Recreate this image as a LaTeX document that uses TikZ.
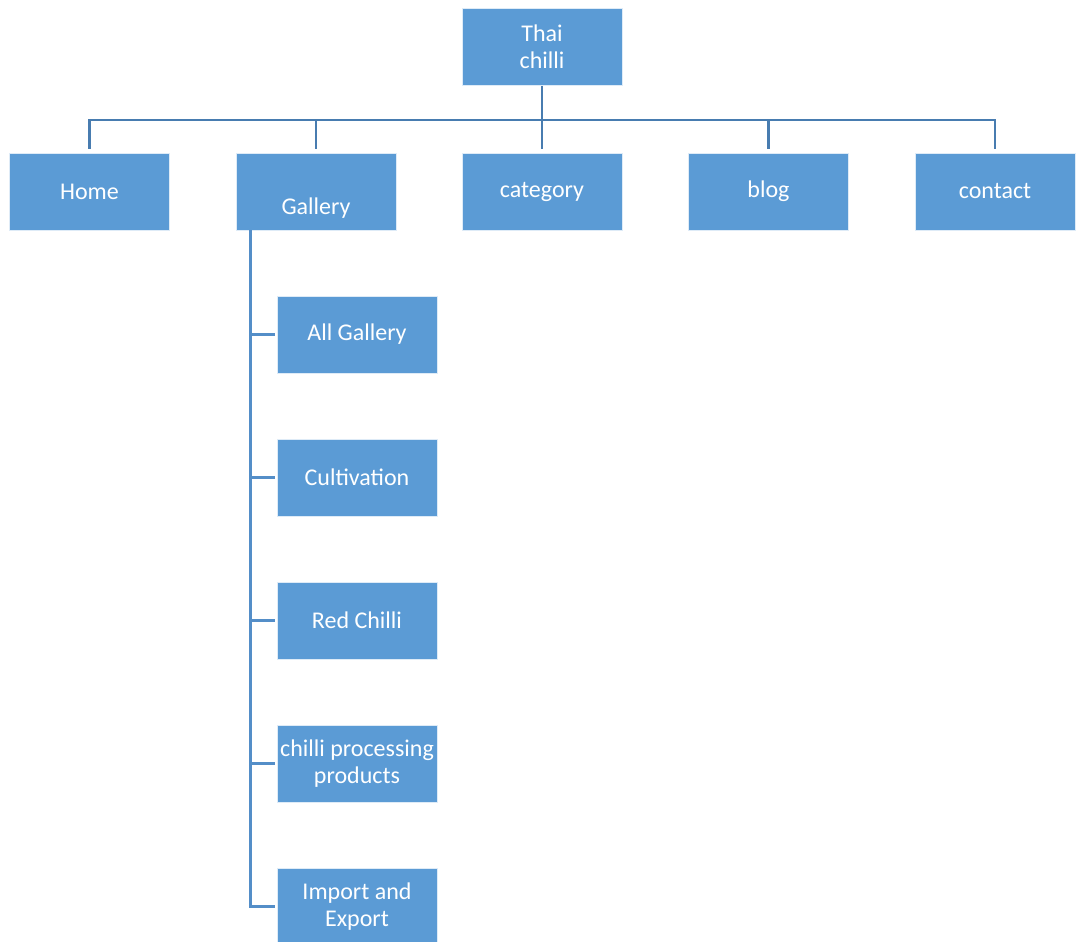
\documentclass[tikz,border=0pt]{standalone}
\usepackage{fontspec}
\setmainfont{Carlito}
\usepackage{tikz}
\definecolor{chilliblue}{RGB}{91,155,213}
\definecolor{busblue}{RGB}{72,124,176}
\definecolor{stemblue}{RGB}{84,142,200}

\tikzset{
    pagebox/.style={fill=chilliblue, draw=white!80!chilliblue, line width=0.4pt, text=white,
        minimum width=120pt, minimum height=57.75pt, inner sep=1pt, align=center,
        font=\fontsize{18}{20}\selectfont},
    busline/.style={busblue, line width=1.6pt},
    stemline/.style={stemblue, line width=1.9pt}
}

\begin{document}
\begin{tikzpicture}[x=0.75pt, y=-0.75pt]
    \useasboundingbox (0,0) rectangle (1080,941);

    % top of the site
    \node[pagebox] (thai) at (542,47) {Thai\\chilli};

    % main menu
    \node[pagebox] (home) at (89.5,191.5) {Home};
    \node[pagebox, text height=35pt, text depth=0pt] (gallery) at (316,191.5) {Gallery};
    \node[pagebox] (category) at (542,191.5) {category};
    \node[pagebox] (blog) at (768.5,191.5) {blog};
    \node[pagebox] (contact) at (995,191.5) {contact};

    % gallery pages
    \node[pagebox] (allgallery) at (357,334.5) {All Gallery};
    \node[pagebox] (cultivation) at (357,477.5) {Cultivation};
    \node[pagebox] (redchilli) at (357,620.5) {Red Chilli};
    \node[pagebox] (processing) at (357,763.5) {chilli processing\\products};
    \node[pagebox] (importexport) at (357,906.5) {Import and\\Export};

    % connectors
    \coordinate (bus) at (542,120);
    \draw[busline] (thai.south) -- (bus);
    \foreach \n in {home,gallery,category,blog,contact}
        \draw[busline, shorten >=2.5pt] (bus) -| (\n.north);

    \coordinate (stem) at ([xshift=11.25pt]gallery.south west);
    \foreach \n in {allgallery,cultivation,redchilli,processing,importexport}
        \draw[stemline, shorten >=1.5pt] (stem) |- (\n.west);
\end{tikzpicture}
\end{document}
